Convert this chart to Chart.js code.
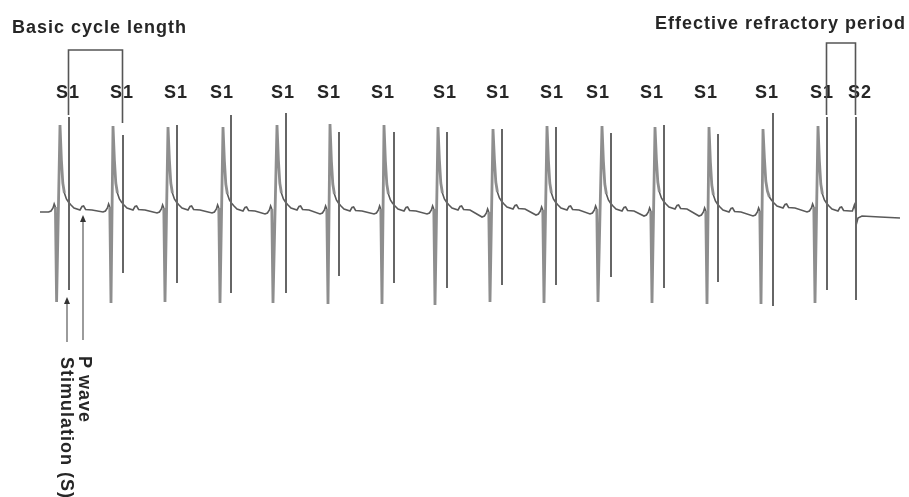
<!DOCTYPE html>
<html>
<head>
<meta charset="utf-8">
<script src="https://cdn.jsdelivr.net/npm/chart.js@4.4.1/dist/chart.umd.min.js"></script>
<style>
html,body{margin:0;padding:0;background:#fff;}
#wrap{width:909px;height:497px;position:relative;}
</style>
</head>
<body>
<div id="wrap"><canvas id="c" width="909" height="497"></canvas></div>
<script>
// ---------------- data (time in ms, amplitude in mV) ----------------
const stimLabels   = ['S1','S1','S1','S1','S1','S1','S1','S1','S1','S1','S1','S1','S1','S1','S1','S2'];
const stimLabelMs  = [140, 410, 680, 910, 1215, 1445, 1715, 2025, 2290, 2560, 2790, 3060, 3330, 3635, 3910, 4100];
const stimTimes    = [145, 415, 685, 955, 1230, 1495, 1770, 2035, 2310, 2580, 2855, 3120, 3390, 3665, 3935, 4080];
const stimTopMv    = [0.95, 0.77, 0.87, 0.97, 0.99, 0.80, 0.80, 0.80, 0.83, 0.85, 0.79, 0.87, 0.78, 0.99, 0.95, 0.95];
const stimBottomMv = [-0.78, -0.61, -0.71, -0.81, -0.81, -0.64, -0.71, -0.76, -0.73, -0.73, -0.65, -0.76, -0.70, -0.94, -0.78, -0.88];

const troughTimes  = [83, 355, 625, 900, 1165, 1440, 1710, 1975, 2250, 2520, 2790, 3060, 3335, 3605, 3875];
const troughMv     = [-0.90, -0.91, -0.90, -0.91, -0.91, -0.92, -0.92, -0.93, -0.90, -0.91, -0.90, -0.91, -0.92, -0.92, -0.91];
const peakTimes    = [100, 365, 640, 915, 1185, 1450, 1720, 1990, 2265, 2535, 2810, 3075, 3345, 3615, 3890];
const peakMv       = [0.87, 0.86, 0.85, 0.85, 0.87, 0.88, 0.87, 0.85, 0.83, 0.86, 0.86, 0.85, 0.85, 0.83, 0.86];
const baseBeforeMv = [0, 0, -0.01, -0.01, -0.02, -0.02, -0.02, -0.02, -0.05, -0.03, -0.02, -0.04, -0.04, -0.04, 0];
const baseAfterMv  = [0.02, 0.02, 0.02, 0.01, 0.02, 0.01, 0.01, 0.02, 0.03, 0.02, 0.01, 0.03, 0.00, 0.04, 0.01];

// wave shape (pre-deflection before trough, tail + P wave after peak)
const preShapeMs   = [-40, -28, -18, -12, -6];
const preShapeMv   = [0, 0.01, 0.04, 0.08, 0.05];
const tailShapeMs  = [7, 14, 22, 32, 42, 55, 70, 100, 110, 118, 128, 160];
const tailShapeMv  = [0.50, 0.27, 0.17, 0.11, 0.08, 0.05, 0.02, 0.00, 0.035, 0.04, 0.005, 0.0];

// trace around and after S2
const s2RegionMs   = [4062, 4072, 4078, 4082, 4090, 4110, 4200, 4300];
const s2RegionMv   = [0.01, 0.07, 0.02, -0.12, -0.06, -0.04, -0.05, -0.06];

// ---------------- build datasets ----------------
const trace = [{x: 0, y: 0}];
for (let i = 0; i < troughTimes.length; i++) {
  for (let j = 0; j < preShapeMs.length; j++)
    trace.push({x: troughTimes[i] + preShapeMs[j], y: baseBeforeMv[i] + preShapeMv[j]});
  trace.push({x: troughTimes[i], y: troughMv[i]});
  trace.push({x: peakTimes[i], y: peakMv[i]});
  for (let j = 0; j < tailShapeMs.length; j++)
    trace.push({x: peakTimes[i] + tailShapeMs[j], y: baseAfterMv[i] + tailShapeMv[j]});
}
for (let j = 0; j < s2RegionMs.length; j++) trace.push({x: s2RegionMs[j], y: s2RegionMv[j]});

const stimPts = [];
for (let i = 0; i < stimTimes.length; i++) {
  stimPts.push({x: stimTimes[i], y: stimTopMv[i]});
  stimPts.push({x: stimTimes[i], y: stimBottomMv[i]});
  stimPts.push({x: stimTimes[i], y: null});
}

const big = c => Math.abs(c.p0.parsed.y) > 0.2 || Math.abs(c.p1.parsed.y) > 0.2;

const FONT = '"Liberation Sans", Arial, Helvetica, sans-serif';

const annot = {
  id: 'annot',
  afterDraw(chart) {
    const ctx = chart.ctx;
    const xs = chart.scales.x;
    ctx.save();
    ctx.fillStyle = '#262626';
    try { ctx.letterSpacing = '1px'; } catch (e) {}
    ctx.font = 'bold 18px ' + FONT;
    ctx.textBaseline = 'alphabetic';
    // titles
    ctx.textAlign = 'left';
    ctx.fillText('Basic cycle length', 12, 33);
    ctx.fillText('Effective refractory period', 655, 29);
    // S labels
    ctx.textAlign = 'center';
    for (let i = 0; i < stimLabels.length; i++) {
      ctx.fillText(stimLabels[i], xs.getPixelForValue(stimLabelMs[i]), 98);
    }
    // brackets
    ctx.strokeStyle = '#555';
    ctx.lineWidth = 1.6;
    const bracket = (ta, tb, top, botA, botB) => {
      const xa = Math.round(xs.getPixelForValue(ta)) - 0.5, xb = Math.round(xs.getPixelForValue(tb)) - 0.5;
      ctx.beginPath();
      ctx.moveTo(xa, botA); ctx.lineTo(xa, top); ctx.lineTo(xb, top); ctx.lineTo(xb, botB);
      ctx.stroke();
    };
    bracket(stimTimes[0], stimTimes[1], 50, 115, 123);
    bracket(stimTimes[14], stimTimes[15], 43, 115, 115);
    // arrows
    ctx.strokeStyle = '#666';
    ctx.fillStyle = '#333';
    ctx.lineWidth = 1.3;
    const arrow = (x, tip, bottom) => {
      ctx.beginPath(); ctx.moveTo(x, bottom); ctx.lineTo(x, tip + 5); ctx.stroke();
      ctx.beginPath(); ctx.moveTo(x, tip); ctx.lineTo(x - 3, tip + 7); ctx.lineTo(x + 3, tip + 7); ctx.closePath(); ctx.fill();
    };
    arrow(67, 297, 342);
    arrow(83, 215, 340);
    // rotated notes
    ctx.fillStyle = '#262626';
    ctx.textAlign = 'left';
    const vtext = (t, bx, y0) => {
      ctx.save(); ctx.translate(bx, y0); ctx.rotate(Math.PI / 2); ctx.fillText(t, 0, 0); ctx.restore();
    };
    vtext('P wave', 79, 356);
    vtext('Stimulation (S)', 61, 357);
    ctx.restore();
  }
};

new Chart(document.getElementById('c').getContext('2d'), {
  type: 'scatter',
  data: {
    datasets: [
      {
        data: stimPts, showLine: true, spanGaps: false,
        borderColor: '#666666', borderWidth: 2, pointRadius: 0
      },
      {
        data: trace, showLine: true,
        borderColor: '#5a5a5a', borderWidth: 1.6, pointRadius: 0, tension: 0,
        segment: {
          borderColor: c => big(c) ? '#8e8e8e' : undefined,
          borderWidth: c => big(c) ? 2.8 : undefined
        }
      }
    ]
  },
  options: {
    responsive: false,
    animation: false,
    events: [],
    layout: { padding: 0 },
    plugins: { legend: { display: false }, tooltip: { enabled: false } },
    scales: {
      x: { type: 'linear', display: false, min: -200, max: 4345 },
      y: { type: 'linear', display: false, min: -2.85, max: 2.12 }
    }
  },
  plugins: [annot]
});
</script>
</body>
</html>
